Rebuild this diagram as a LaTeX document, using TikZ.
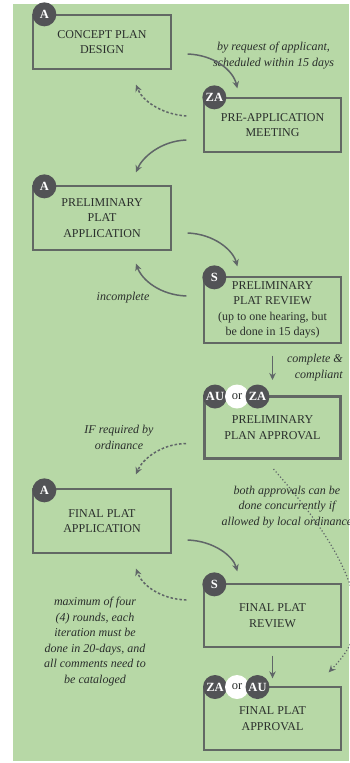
\documentclass[tikz,border=0pt]{standalone}
\usepackage{fontspec}
\setmainfont{Liberation Serif}
\usetikzlibrary{arrows.meta,calc}
\definecolor{bg}{RGB}{183,216,166}
\definecolor{boxline}{RGB}{98,104,100}
\definecolor{badge}{RGB}{82,83,86}
\definecolor{txt}{RGB}{42,46,44}
\definecolor{arrc}{RGB}{96,102,104}
\begin{document}
\begin{tikzpicture}[x=1pt,y=-1pt,
 stepbox/.style={draw=boxline,line width=1.3pt,minimum width=137pt,align=center,text=txt,font=\fontsize{12}{15.5}\selectfont,inner sep=0pt},
 badgenode/.style={circle,fill=badge,minimum size=24pt,inner sep=0pt,text=white,font=\fontsize{12.5}{12.5}\selectfont\bfseries},
 ornode/.style={circle,fill=white,minimum size=24pt,inner sep=0pt,text=txt,font=\fontsize{12.5}{12.5}\selectfont},
 note/.style={align=center,text=txt,font=\fontsize{12}{15.5}\selectfont\itshape,inner sep=0pt},
 flow/.style={draw=arrc,line width=1.5pt,-{Stealth[length=7pt,width=6.5pt]}},
 backflow/.style={flow,dash pattern=on 2.5pt off 2pt},
 concflow/.style={draw=arrc,line width=1.2pt,dash pattern=on 1.2pt off 2.2pt,-{Stealth[length=7pt,width=6.5pt]}},
]
\useasboundingbox (0,0) rectangle (349,763);
\fill[white] (0,0) rectangle (349,763);
\fill[bg] (13,4) rectangle (349,761);

% boxes
\node[stepbox,minimum width=138pt,minimum height=54pt] (b1) at (102,42) {CONCEPT PLAN\\DESIGN};
\node[stepbox,minimum height=54pt] (b2) at (272.5,125) {PRE-APPLICATION\\MEETING};
\node[stepbox,minimum width=138pt,minimum height=64pt] (b3) at (102,218) {PRELIMINARY\\PLAT\\APPLICATION};
\node[stepbox,minimum height=66pt] (b4) at (272.5,310) {PRELIMINARY\\PLAT REVIEW\\(up to one hearing, but\\be done in 15 days)};
\node[stepbox,line width=3pt,minimum width=136pt,minimum height=62pt] (b5) at (272.5,427.5) {PRELIMINARY\\PLAN APPROVAL};
\node[stepbox,minimum width=138pt,minimum height=64pt] (b6) at (102,521) {FINAL PLAT\\APPLICATION};
\node[stepbox,minimum height=63pt] (b7) at (272.5,615.5) {FINAL PLAT\\REVIEW};
\node[stepbox,minimum height=63pt] (b8) at (272.5,718.5) {FINAL PLAT\\APPROVAL};

% notes
\node[note] (n1) at (273.5,55.5) {by request of applicant,\\scheduled within 15 days};
\node[note] (n2) at (123,298) {incomplete};
\node[note,align=right,anchor=east] (n3) at (343,367.5) {complete \&\\compliant};
\node[note] (n4) at (119,437.5) {IF required by\\ordinance};
\node[note] (n5) at (287,507) {both approvals can be\\done concurrently if\\allowed by local ordinance};
\node[note] (n6) at (95,641.5) {maximum of four\\(4) rounds, each\\iteration must be\\done in 20-days, and\\all comments need to\\be cataloged};

% connector end points
\coordinate (c1a) at ($(b1.east)+(16,12)$);
\coordinate (c1b) at ($(b2.north west)+(34,-9)$);
\coordinate (c2a) at ($(b2.west)+(-17,-9)$);
\coordinate (c2b) at ($(b1.south)+(34,15)$);
\coordinate (c3a) at ($(b2.west)+(-17,15)$);
\coordinate (c3b) at ($(b3.north)+(34,-13)$);
\coordinate (c4a) at ($(b3.east)+(16,15)$);
\coordinate (c4b) at ($(b4.north west)+(34,-10)$);
\coordinate (c5a) at ($(b4.west)+(-17,-14)$);
\coordinate (c5b) at ($(b3.south)+(34,13)$);
\coordinate (c6a) at ($(b4.south)+(0,12)$);
\coordinate (c6b) at ($(b5.north)+(0,-15)$);
\coordinate (c7a) at ($(b5.west)+(-17,16)$);
\coordinate (c7b) at ($(b6.north)+(34,-14)$);
\coordinate (c8a) at ($(b5.south)+(1,9)$);
\coordinate (c8m) at (356,610);
\coordinate (c8b) at ($(b8.north east)+(-13,-14)$);
\coordinate (c9a) at ($(b6.east)+(16,19)$);
\coordinate (c9b) at ($(b7.north west)+(34,-12)$);
\coordinate (c10a) at ($(b7.west)+(-17,-15.5)$);
\coordinate (c10b) at ($(b6.south)+(34,15)$);
\coordinate (c11a) at ($(b7.south)+(0,8)$);
\coordinate (c11b) at ($(b8.north)+(0,-8)$);

% connectors
\draw[flow] (c1a) .. controls (214,55) and (233,70) .. (c1b);
\draw[backflow] (c2a) .. controls (160,114) and (142,100) .. (c2b);
\draw[flow] (c3a) .. controls (160,141) and (142,158) .. (c3b);
\draw[flow] (c4a) .. controls (214,234) and (233,250) .. (c4b);
\draw[flow] (c5a) .. controls (160,295) and (142,280) .. (c5b);
\draw[flow] (c6a) -- (c6b);
\draw[backflow] (c7a) .. controls (160,444) and (142,460) .. (c7b);
\draw[concflow] (c8a) .. controls (305,505) and (350,560) .. (c8m) .. controls (358,640) and (345,655) .. (c8b);
\draw[flow] (c9a) .. controls (214,541) and (233,556) .. (c9b);
\draw[backflow] (c10a) .. controls (160,599) and (142,585) .. (c10b);
\draw[flow] (c11a) -- (c11b);

% badges
\node[badgenode] (g1) at ($(b1.north west)+(12,0)$) {A};
\node[badgenode] (g2) at ($(b2.north west)+(11,0)$) {ZA};
\node[badgenode] (g3) at ($(b3.north west)+(12,1)$) {A};
\node[badgenode] (g4) at ($(b4.north west)+(11,1)$) {S};
\node[badgenode] (g5) at (215,396.5) {AU};
\node[ornode] (o5) at (237,396.5) {or};
\node[badgenode] (h5) at (257.5,396.5) {ZA};
\node[badgenode] (g6) at ($(b6.north west)+(12,2)$) {A};
\node[badgenode] (g7) at ($(b7.north west)+(11,1)$) {S};
\node[badgenode] (g8) at (215,687) {ZA};
\node[ornode] (o8) at (237,687) {or};
\node[badgenode] (h8) at (257.5,687) {AU};
\end{tikzpicture}
\end{document}
